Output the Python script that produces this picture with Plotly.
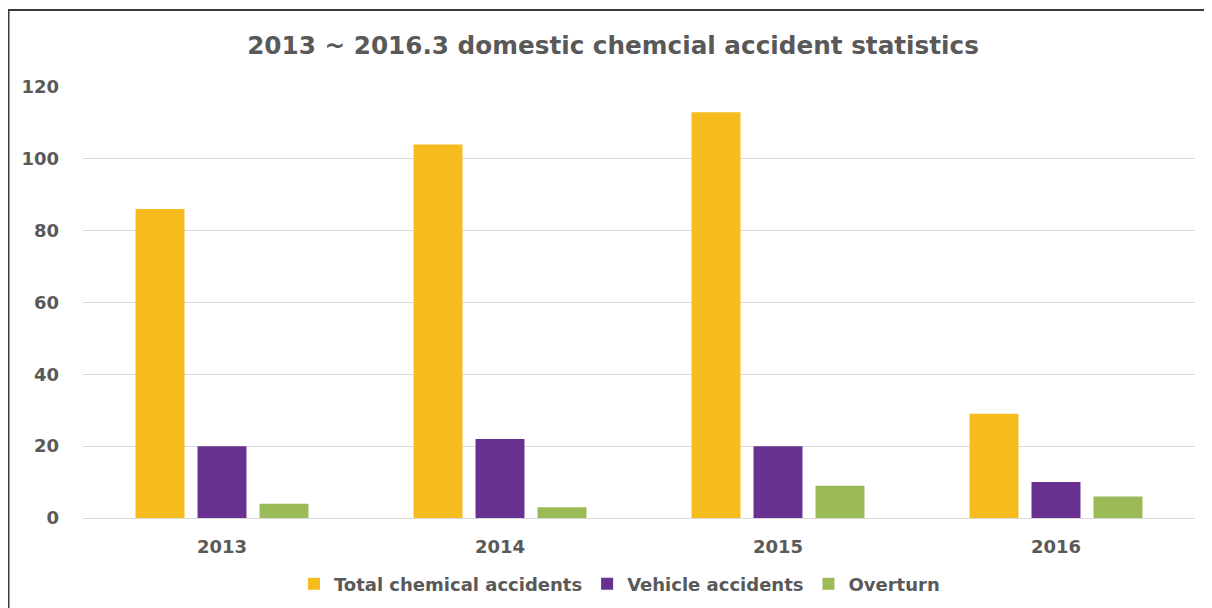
import plotly.graph_objects as go

years = ["2013", "2014", "2015", "2016"]
total_chemical = [86, 104, 113, 29]
vehicle = [20, 22, 20, 10]
overturn = [4, 3, 9, 6]

series_names = ["Total chemical accidents", "Vehicle accidents", "Overturn"]
series_colors = ["#F6BC1D", "#68318F", "#9BBB59"]
y_ticks = [0, 20, 40, 60, 80, 100, 120]

# page body has an 8px margin, so the figure is sized to the visible area
W, H = 1204, 600
ML, MR, MT, MB = 75, 17, 79, 90
PW, PH = W - ML - MR, H - MT - MB

fig = go.Figure()
for name, vals, col in zip(series_names, [total_chemical, vehicle, overturn], series_colors):
    fig.add_trace(go.Bar(name=name, x=years, y=vals, marker=dict(color=col, line=dict(width=0))))

fam = "DejaVu Sans, Verdana, sans-serif"
grey = "#595959"

fig.update_layout(
    width=W, height=H,
    margin=dict(l=ML, r=MR, t=MT, b=MB, autoexpand=False),
    paper_bgcolor="white", plot_bgcolor="white",
    barmode="group", bargap=0.331, bargroupgap=0.21,
    title=dict(text="2013 ~ 2016.3 domestic chemcial accident statistics",
               x=605 / W, xanchor="center", y=1 - 37 / H, yanchor="middle",
               font=dict(family=fam, size=24.7, color=grey, weight="bold")),
    xaxis=dict(showgrid=False, showline=True, linecolor="#D9D9D9", linewidth=1,
               ticks="", tickfont=dict(family=fam, size=18, color=grey, weight="bold"),
               ticklabelstandoff=12, automargin=False),
    yaxis=dict(range=[0, 120], tickvals=y_ticks, showgrid=True, gridcolor="#D9D9D9",
               gridwidth=1, zeroline=False, showline=False, ticks="",
               tickfont=dict(family=fam, size=18, color=grey, weight="bold"),
               ticklabelstandoff=23, automargin=False),
    legend=dict(orientation="h", x=0.4824, xanchor="center",
                yref="container", y=1 - 576 / H, yanchor="middle",
                font=dict(family=fam, size=18, color=grey, weight="bold"),
                itemsizing="constant", traceorder="normal", itemwidth=30),
    showlegend=True,
)

# frame lines (top and left)
fig.add_shape(type="line", xref="paper", yref="paper",
              x0=(-3 - ML) / PW, x1=(W + 5 - ML) / PW,
              y0=(H - MB - 2) / PH, y1=(H - MB - 2) / PH,
              line=dict(color="#3A3A3A", width=2))
fig.add_shape(type="line", xref="paper", yref="paper",
              x0=(0.75 - ML) / PW, x1=(0.75 - ML) / PW,
              y0=(H - MB - 2) / PH, y1=-(MB + 5) / PH,
              line=dict(color="#3A3A3A", width=1.5))

fig.write_html("out.html")
